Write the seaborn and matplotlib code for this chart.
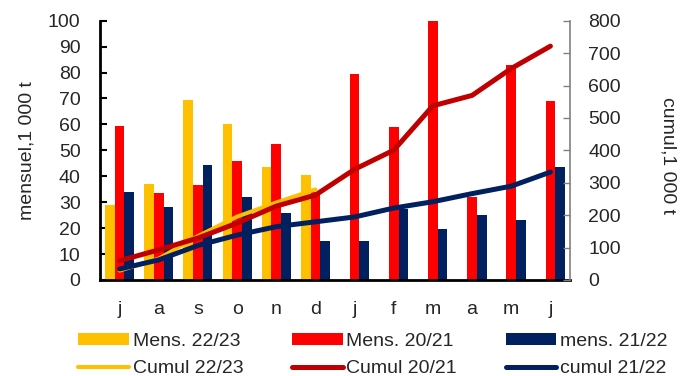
import numpy as np
import pandas as pd
import matplotlib
matplotlib.use("Agg")
import matplotlib.pyplot as plt
from matplotlib.patches import Patch
from matplotlib.lines import Line2D
import seaborn as sns

# Campaign months (July -> June) and the single-letter tick labels
months = ["juil", "août", "sept", "oct", "nov", "déc",
          "janv", "févr", "mars", "avr", "mai", "juin"]
tick_labels = ["j", "a", "s", "o", "n", "d", "j", "f", "m", "a", "m", "j"]

# Monthly volumes, 1 000 t
mens_2223 = [29, 37, 69.5, 60, 43.5, 40.5]
mens_2021 = [59.5, 33.5, 36.5, 46, 52.5, 34, 79.5, 59, 137, 32, 83, 69]
mens_2122 = [34, 28, 44.5, 32, 26, 15, 15, 27.5, 19.5, 25, 23, 43.5]

# Cumulated volumes, 1 000 t
cumul_2223 = [29, 66, 135.5, 195.5, 239, 279.5]
cumul_2021 = [59.5, 93, 129.5, 175.5, 228, 262, 341.5, 400.5, 537.5, 569.5, 652.5, 721.5]
cumul_2122 = [34, 62, 106.5, 138.5, 164.5, 179.5, 194.5, 222, 241.5, 266.5, 289.5, 333]

seasons = ["22/23", "20/21", "21/22"]
bar_colors = {"22/23": "#FFC000", "20/21": "#FF0000", "21/22": "#002060"}
line_colors = {"22/23": "#FFC000", "20/21": "#C00000", "21/22": "#002060"}
line_widths = {"22/23": 2.9, "20/21": 3.6, "21/22": 3.6}

monthly = {"22/23": mens_2223, "20/21": mens_2021, "21/22": mens_2122}
cumul = {"22/23": cumul_2223, "20/21": cumul_2021, "21/22": cumul_2122}

rows = []
for s in seasons:
    for m, v in zip(months, monthly[s]):
        rows.append({"mois": m, "campagne": s, "valeur": v})
df_bars = pd.DataFrame(rows)

sns.set_theme(style="white")
plt.rcParams["font.family"] = ["Liberation Sans", "DejaVu Sans"]
FS = 14

fig = plt.figure(figsize=(6.98, 3.76), dpi=100)
ax = fig.add_axes([100 / 698, 1 - 280 / 376, 470 / 698, (280 - 20.7) / 376])

sns.barplot(data=df_bars, x="mois", y="valeur", hue="campagne",
            order=months, hue_order=seasons, palette=bar_colors,
            width=0.74, errorbar=None, linewidth=0, saturation=1,
            legend=False, ax=ax)

ax.set_ylim(0, 100)
ax.set_yticks(np.arange(0, 101, 10))
ax.set_xlim(-0.5, len(months) - 0.5)
ax.set_xticks(range(len(months)))
ax.set_xticklabels(tick_labels)
ax.set_xlabel("")
ax.set_ylabel("mensuel,1 000 t", fontsize=FS)
ax.yaxis.set_label_coords(-0.137, 0.5)
ax.tick_params(axis="y", direction="in", length=5, width=1.5, color="black",
               labelsize=FS, pad=14, left=True)
ax.tick_params(axis="x", length=0, labelsize=FS, pad=15)
for side in ("top", "right"):
    ax.spines[side].set_visible(False)
ax.spines["left"].set_color("black")
ax.spines["left"].set_linewidth(2)
ax.spines["bottom"].set_color("black")
ax.spines["bottom"].set_linewidth(2)

ax2 = ax.twinx()
for s in seasons:
    d = pd.DataFrame({"pos": np.arange(len(cumul[s])), "cumul": cumul[s]})
    sns.lineplot(data=d, x="pos", y="cumul", color=line_colors[s],
                 linewidth=line_widths[s], ax=ax2, solid_capstyle="round")
ax2.set_ylim(0, 800)
ax2.set_yticks(np.arange(0, 801, 100))
ax2.set_xlim(-0.5, len(months) - 0.5)
ax2.set_xlabel("")
ax2.set_ylabel("cumul,1 000 t", fontsize=FS, rotation=-90, labelpad=0)
ax2.yaxis.set_label_coords(1.226, 0.48)
ax2.tick_params(axis="y", direction="in", length=5, width=1, color="#808080",
                labelsize=FS, pad=13, right=True)
for side in ("top", "left", "bottom"):
    ax2.spines[side].set_visible(False)
ax2.spines["right"].set_color("#808080")
ax2.spines["right"].set_linewidth(1.2)
ax2.grid(False)
ax.grid(False)

# Legend: row 1 monthly bars, row 2 cumulated lines (column-major order)
handles, labels = [], []
names_m = {"22/23": "Mens. 22/23", "20/21": "Mens. 20/21", "21/22": "mens. 21/22"}
names_c = {"22/23": "Cumul 22/23", "20/21": "Cumul 20/21", "21/22": "cumul 21/22"}
for s in seasons:
    handles.append(Patch(facecolor=bar_colors[s], edgecolor="none"))
    labels.append(names_m[s])
    handles.append(Line2D([0], [0], color=line_colors[s], linewidth=line_widths[s],
                          solid_capstyle="round"))
    labels.append(names_c[s])
fig.legend(handles, labels, ncol=3, loc="center",
           bbox_to_anchor=(373 / 698, 1 - 355 / 376), frameon=False,
           fontsize=FS, handlelength=2.6, handleheight=0.6, handletextpad=0.2,
           columnspacing=2.5, labelspacing=0.55, borderpad=0)

fig.savefig("out.png", dpi=100)
